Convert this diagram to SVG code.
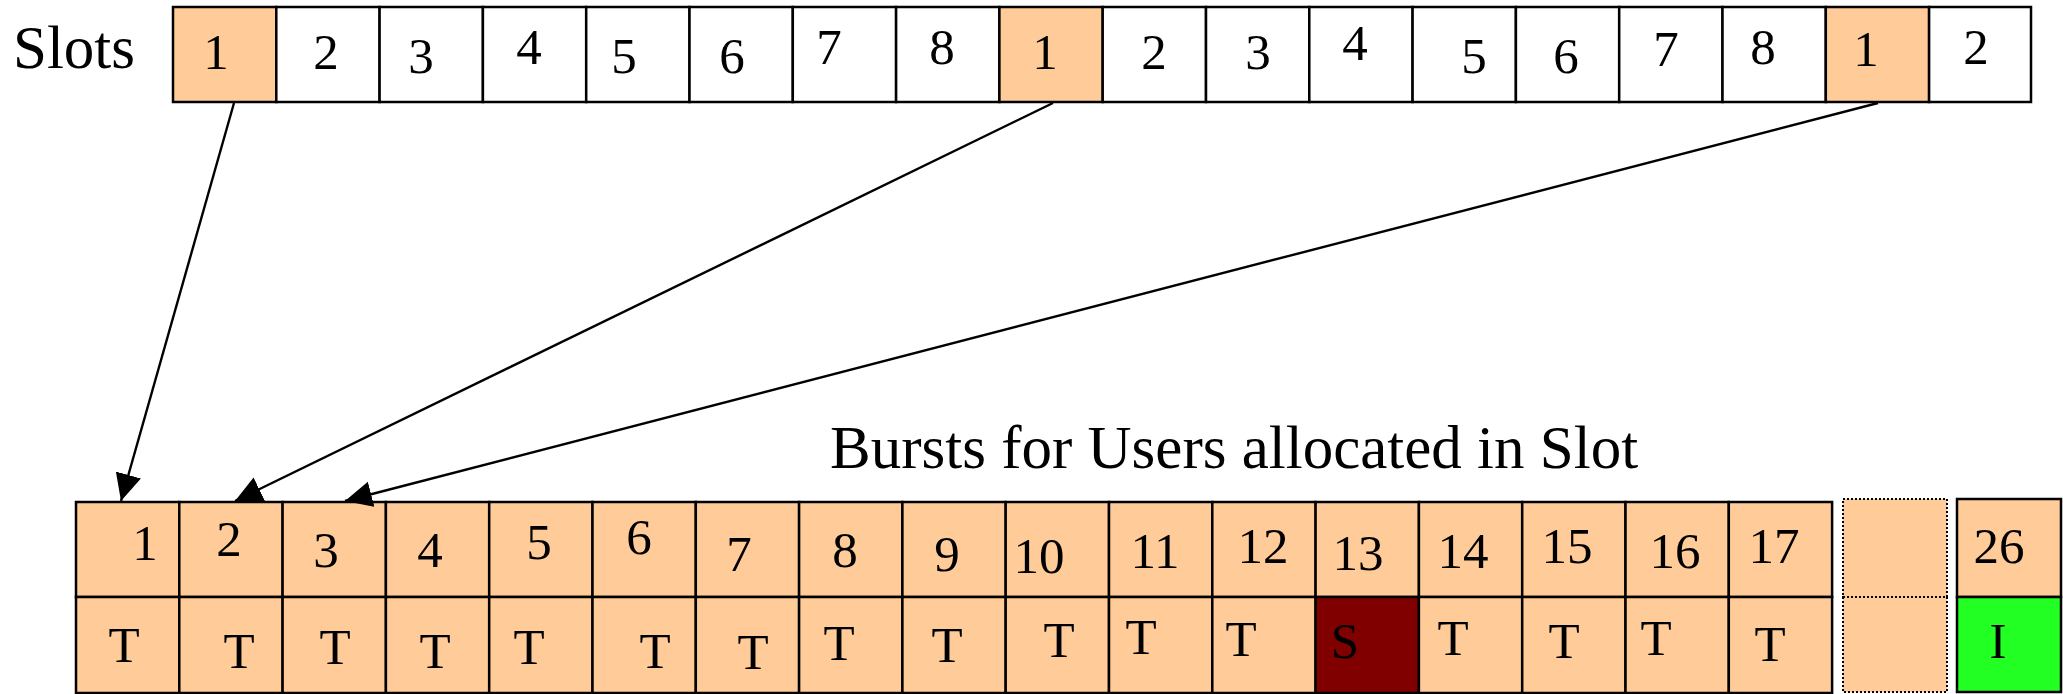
<svg xmlns="http://www.w3.org/2000/svg" width="2063" height="694" viewBox="0 0 2063 694">
  <style>
    .cell { stroke: #000; stroke-width: 2.5; }
    .sel { fill: #FFCC99; }
    .free { fill: #FFFFFF; }
    .sig { fill: #800000; }
    .idle { fill: #22FF22; }
    .dot { fill: #FFCC99; stroke: #000; stroke-width: 2; stroke-dasharray: 2 2; }
    text { font-family: "Liberation Serif", "Times New Roman", serif; fill: #000; }
    .num { font-size: 51px; text-anchor: middle; }
    .big { font-size: 61px; }
    .conn { stroke: #000; stroke-width: 2.4; fill: none; marker-end: url(#head); }
  </style>
  <defs>
    <marker id="head" markerUnits="userSpaceOnUse" markerWidth="30" markerHeight="28" refX="27" refY="13" orient="auto">
      <path d="M0,0 L27,13 L0,26 Z" fill="#000"/>
    </marker>
  </defs>

  <rect width="2063" height="694" fill="#FFFFFF"/>

  <!-- Slot timeline -->
  <g id="slots-label"><text class="big" x="13" y="68">Slots</text></g>
  <g id="slots">
    <rect class="cell sel"  x="173.0"  y="7" width="103.3" height="95"/>
    <rect class="cell free" x="276.3"  y="7" width="103.3" height="95"/>
    <rect class="cell free" x="379.6"  y="7" width="103.3" height="95"/>
    <rect class="cell free" x="482.9"  y="7" width="103.3" height="95"/>
    <rect class="cell free" x="586.2"  y="7" width="103.3" height="95"/>
    <rect class="cell free" x="689.5"  y="7" width="103.3" height="95"/>
    <rect class="cell free" x="792.8"  y="7" width="103.3" height="95"/>
    <rect class="cell free" x="896.1"  y="7" width="103.3" height="95"/>
    <rect class="cell sel"  x="999.4"  y="7" width="103.3" height="95"/>
    <rect class="cell free" x="1102.7" y="7" width="103.3" height="95"/>
    <rect class="cell free" x="1206.0" y="7" width="103.3" height="95"/>
    <rect class="cell free" x="1309.3" y="7" width="103.3" height="95"/>
    <rect class="cell free" x="1412.6" y="7" width="103.3" height="95"/>
    <rect class="cell free" x="1515.9" y="7" width="103.3" height="95"/>
    <rect class="cell free" x="1619.2" y="7" width="103.3" height="95"/>
    <rect class="cell free" x="1722.5" y="7" width="103.3" height="95"/>
    <rect class="cell sel"  x="1825.8" y="7" width="103.3" height="95"/>
    <rect class="cell free" x="1929.1" y="7" width="101.9" height="95"/>
    <text class="num" x="216"  y="69">1</text>
    <text class="num" x="326"  y="69">2</text>
    <text class="num" x="421"  y="73">3</text>
    <text class="num" x="529"  y="64">4</text>
    <text class="num" x="624"  y="73">5</text>
    <text class="num" x="732"  y="73">6</text>
    <text class="num" x="829"  y="64">7</text>
    <text class="num" x="942"  y="64">8</text>
    <text class="num" x="1045" y="69">1</text>
    <text class="num" x="1154" y="69">2</text>
    <text class="num" x="1258" y="69">3</text>
    <text class="num" x="1355" y="60">4</text>
    <text class="num" x="1474" y="73">5</text>
    <text class="num" x="1566" y="73">6</text>
    <text class="num" x="1666" y="66">7</text>
    <text class="num" x="1763" y="64">8</text>
    <text class="num" x="1866" y="66">1</text>
    <text class="num" x="1976" y="64">2</text>
  </g>

  <g id="bursts-label"><text class="big" x="830" y="468">Bursts for Users allocated in Slot</text></g>

  <!-- Burst numbers (upper row) and burst types (lower row) -->
  <g id="bursts">
    <g class="sel">
      <rect class="cell" x="76.0"   y="502" width="103.3" height="95"/>
      <rect class="cell" x="179.3"  y="502" width="103.3" height="95"/>
      <rect class="cell" x="282.6"  y="502" width="103.3" height="95"/>
      <rect class="cell" x="385.9"  y="502" width="103.3" height="95"/>
      <rect class="cell" x="489.2"  y="502" width="103.3" height="95"/>
      <rect class="cell" x="592.5"  y="502" width="103.3" height="95"/>
      <rect class="cell" x="695.8"  y="502" width="103.3" height="95"/>
      <rect class="cell" x="799.1"  y="502" width="103.3" height="95"/>
      <rect class="cell" x="902.4"  y="502" width="103.3" height="95"/>
      <rect class="cell" x="1005.7" y="502" width="103.3" height="95"/>
      <rect class="cell" x="1109.0" y="502" width="103.3" height="95"/>
      <rect class="cell" x="1212.3" y="502" width="103.3" height="95"/>
      <rect class="cell" x="1315.6" y="502" width="103.3" height="95"/>
      <rect class="cell" x="1418.9" y="502" width="103.3" height="95"/>
      <rect class="cell" x="1522.2" y="502" width="103.3" height="95"/>
      <rect class="cell" x="1625.5" y="502" width="103.3" height="95"/>
      <rect class="cell" x="1728.8" y="502" width="103.3" height="95"/>

      <rect class="cell" x="76.0"   y="597" width="103.3" height="96"/>
      <rect class="cell" x="179.3"  y="597" width="103.3" height="96"/>
      <rect class="cell" x="282.6"  y="597" width="103.3" height="96"/>
      <rect class="cell" x="385.9"  y="597" width="103.3" height="96"/>
      <rect class="cell" x="489.2"  y="597" width="103.3" height="96"/>
      <rect class="cell" x="592.5"  y="597" width="103.3" height="96"/>
      <rect class="cell" x="695.8"  y="597" width="103.3" height="96"/>
      <rect class="cell" x="799.1"  y="597" width="103.3" height="96"/>
      <rect class="cell" x="902.4"  y="597" width="103.3" height="96"/>
      <rect class="cell" x="1005.7" y="597" width="103.3" height="96"/>
      <rect class="cell" x="1109.0" y="597" width="103.3" height="96"/>
      <rect class="cell" x="1212.3" y="597" width="103.3" height="96"/>
      <rect class="cell sig" x="1315.6" y="597" width="103.3" height="96"/>
      <rect class="cell" x="1418.9" y="597" width="103.3" height="96"/>
      <rect class="cell" x="1522.2" y="597" width="103.3" height="96"/>
      <rect class="cell" x="1625.5" y="597" width="103.3" height="96"/>
      <rect class="cell" x="1728.8" y="597" width="103.3" height="96"/>
    </g>
    <text class="num" x="145"  y="560">1</text>
    <text class="num" x="229"  y="556">2</text>
    <text class="num" x="326"  y="567">3</text>
    <text class="num" x="430"  y="567">4</text>
    <text class="num" x="539"  y="559">5</text>
    <text class="num" x="639"  y="554">6</text>
    <text class="num" x="739"  y="571">7</text>
    <text class="num" x="845"  y="567">8</text>
    <text class="num" x="947"  y="571">9</text>
    <text class="num" x="1039" y="573">10</text>
    <text class="num" x="1155" y="568">11</text>
    <text class="num" x="1263" y="563">12</text>
    <text class="num" x="1358" y="570">13</text>
    <text class="num" x="1463" y="568">14</text>
    <text class="num" x="1567" y="563">15</text>
    <text class="num" x="1675" y="568">16</text>
    <text class="num" x="1774" y="563">17</text>

    <text class="num" x="124"  y="662">T</text>
    <text class="num" x="239"  y="668">T</text>
    <text class="num" x="335"  y="664">T</text>
    <text class="num" x="435"  y="668">T</text>
    <text class="num" x="529"  y="664">T</text>
    <text class="num" x="655"  y="668">T</text>
    <text class="num" x="753"  y="669">T</text>
    <text class="num" x="839"  y="660">T</text>
    <text class="num" x="947"  y="662">T</text>
    <text class="num" x="1059" y="657">T</text>
    <text class="num" x="1141" y="654">T</text>
    <text class="num" x="1241" y="656">T</text>
    <text class="num" x="1345" y="658">S</text>
    <text class="num" x="1453" y="655">T</text>
    <text class="num" x="1564" y="658">T</text>
    <text class="num" x="1656" y="655">T</text>
    <text class="num" x="1770" y="661">T</text>
  </g>

  <!-- Elided bursts -->
  <g id="gap">
    <rect class="dot" x="1843" y="499" width="104" height="98"/>
    <rect class="dot" x="1843" y="597" width="104" height="95"/>
  </g>

  <!-- Last burst -->
  <g id="burst-26">
    <rect class="cell sel"  x="1957" y="499" width="104" height="98"/>
    <rect class="cell idle" x="1957" y="597" width="104" height="95"/>
    <text class="num" x="1999" y="563">26</text>
    <text class="num" x="1998" y="658">I</text>
  </g>

  <g id="connectors">
    <line class="conn" x1="234"  y1="103" x2="121" y2="501"/>
    <line class="conn" x1="1053" y1="103" x2="235" y2="501"/>
    <line class="conn" x1="1878" y1="103" x2="345" y2="501"/>
  </g>
</svg>
